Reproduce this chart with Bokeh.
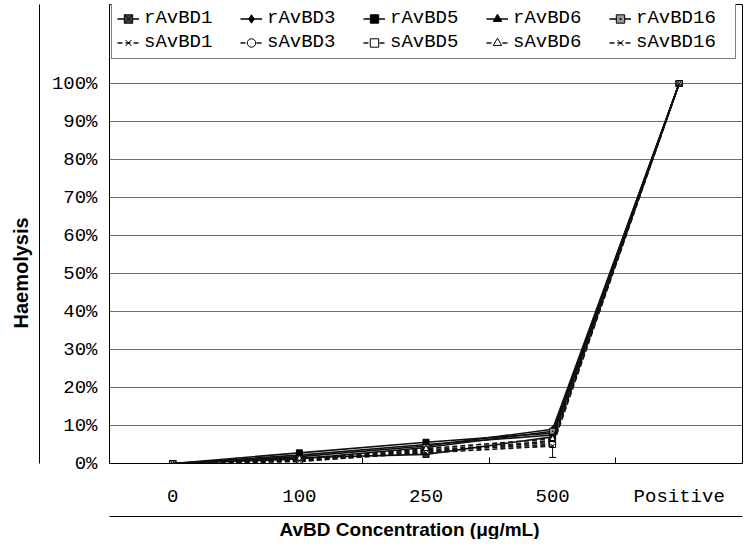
from bokeh.plotting import figure
from bokeh.models import (Range1d, FixedTicker, NumeralTickFormatter, Legend, LegendItem,
                          Whisker, ColumnDataSource, TeeHead, LinearAxis, Title)
from bokeh.embed import file_html
from bokeh.resources import INLINE

# ---- data (percent haemolysis) ----
categories = ["0", "100", "250", "500", "Positive"]
rAvBD1 = [0, 1.5, 2.4, 7.0, 100]
rAvBD3 = [0, 2.2, 5.0, 7.5, 100]
rAvBD5 = [0, 2.8, 5.6, 8.0, 100]
rAvBD6 = [0, 1.8, 4.6, 9.0, 100]
rAvBD16 = [0, 1.2, 4.2, 8.5, 100]
sAvBD1 = [0, 0.5, 3.0, 6.0, 100]
sAvBD3 = [0, 1.0, 3.6, 5.5, 100]
sAvBD5 = [0, 0.8, 3.3, 5.0, 100]
sAvBD6 = [0, 1.3, 3.9, 6.5, 100]
sAvBD16 = [0, 0.7, 2.8, 4.6, 100]
sAvBD16_err = [0, 0, 0, 3.0, 0]
y_ticks = [0, 10, 20, 30, 40, 50, 60, 70, 80, 90, 100]

SERIF = "Liberation Mono"
x_pos = [i + 0.5 for i in range(len(categories))]

# plot frame spans from the legend top down to the 0% line; 100% sits 79px below the top
p = figure(width=743, height=539, output_backend="svg", toolbar_location=None,
           x_range=Range1d(0, len(categories)), y_range=Range1d(0, 459 / 380),
           min_border_left=108, min_border_right=1, min_border_top=4, min_border_bottom=76)
p.background_fill_color = "white"
p.border_fill_color = "white"
p.outline_line_color = "black"
p.outline_line_width = 1

# x axis
p.xaxis.ticker = FixedTicker(ticks=x_pos, minor_ticks=list(range(1, len(categories))))
p.xaxis.major_label_overrides = {x: c for x, c in zip(x_pos, categories)}
p.xaxis.major_tick_in = 0
p.xaxis.major_tick_out = 0
p.xaxis.minor_tick_in = 6
p.xaxis.minor_tick_out = 0
p.xaxis.minor_tick_line_color = "black"
p.xaxis.axis_line_color = "black"
p.xaxis.major_label_text_font = SERIF
p.xaxis.major_label_text_font_size = "19px"
p.xaxis.major_label_text_color = "black"
p.xaxis.major_label_standoff = 22
p.xaxis.axis_label = "\u00a0"
p.xaxis.axis_label_text_font_size = "1px"
p.xaxis.axis_label_standoff = 2

# y axis
p.yaxis.ticker = FixedTicker(ticks=[t / 100 for t in y_ticks])
p.yaxis.formatter = NumeralTickFormatter(format="0%")
p.yaxis.bounds = (0, 1)
p.yaxis.major_tick_in = 0
p.yaxis.major_tick_out = 0
p.yaxis.minor_tick_line_color = None
p.yaxis.axis_line_color = "black"
p.yaxis.major_label_text_font = SERIF
p.yaxis.major_label_text_font_size = "19px"
p.yaxis.major_label_text_color = "black"
p.yaxis.major_label_standoff = 12
p.yaxis.axis_label = "\u00a0"
p.yaxis.axis_label_text_font_size = "1px"
p.yaxis.axis_label_standoff = 5

p.xgrid.visible = False
p.ygrid.ticker = FixedTicker(ticks=[t / 100 for t in y_ticks])
p.ygrid.grid_line_color = "#6e6e6e"
p.ygrid.grid_line_width = 1

series = [
    ("rAvBD1", rAvBD1, "square_x", "#444444", None),
    ("rAvBD3", rAvBD3, "diamond", "black", None),
    ("rAvBD5", rAvBD5, "square", "black", None),
    ("rAvBD6", rAvBD6, "triangle", "black", None),
    ("rAvBD16", rAvBD16, "square_dot", "#999999", None),
    ("sAvBD1", sAvBD1, "x", "white", "5 3"),
    ("sAvBD3", sAvBD3, "circle", "white", "5 3"),
    ("sAvBD5", sAvBD5, "square", "white", "5 3"),
    ("sAvBD6", sAvBD6, "triangle", "white", "5 3"),
    ("sAvBD16", sAvBD16, "x", "white", "5 3"),
]

items = []
for name, vals, marker, fill, dash in series:
    ys = [v / 100 for v in vals]
    kw = dict(line_color="#111111", line_width=1.6)
    if dash:
        kw["line_dash"] = dash
    lr = p.line(x_pos, ys, **kw)
    sr = p.scatter(x_pos, ys, marker=marker, size=6, fill_color=fill, line_color="black", line_width=1)
    items.append(LegendItem(label=name, renderers=[lr, sr]))

# error bar
ex = [x for x, e in zip(x_pos, sAvBD16_err) if e > 0]
ev = [v for v, e in zip(sAvBD16, sAvBD16_err) if e > 0]
ee = [e for e in sAvBD16_err if e > 0]
esrc = ColumnDataSource(dict(x=ex, upper=[(v + e) / 100 for v, e in zip(ev, ee)],
                             lower=[(v - e) / 100 for v, e in zip(ev, ee)]))
p.add_layout(Whisker(base="x", upper="upper", lower="lower", source=esrc, line_color="black",
                     upper_head=TeeHead(size=7, line_color="black"),
                     lower_head=TeeHead(size=7, line_color="black")))

legend = Legend(items=items, orientation="horizontal", ncols=5, location=(2, 404))
legend.label_text_font = SERIF
legend.label_text_font_size = "19px"
legend.label_text_color = "black"
legend.glyph_width = 22
legend.glyph_height = 21
legend.label_height = 21
legend.label_width = 94
legend.label_standoff = 5
legend.spacing = 2
legend.padding = 5
legend.margin = 0
legend.border_line_color = "black"
legend.border_line_width = 1
legend.background_fill_color = "white"
legend.background_fill_alpha = 1
p.add_layout(legend, "center")


# outer chart-area frame lines: bare axes without ticks or labels
def frame_axis():
    return LinearAxis(ticker=FixedTicker(ticks=[]), major_tick_line_color=None,
                      minor_tick_line_color=None, major_label_text_font_size="0px",
                      axis_line_color="black", major_label_standoff=0)


p.add_layout(frame_axis(), "left")
p.add_layout(frame_axis(), "below")

# axis titles
p.add_layout(Title(text="Haemolysis", align="left", offset=135, standoff=15,
                   text_font="Liberation Sans", text_font_style="bold",
                   text_font_size="20px", text_color="black"), "left")
p.add_layout(Title(text="AvBD Concentration (μg/mL)", align="left", offset=170, standoff=0,
                   text_font="Liberation Sans", text_font_style="bold",
                   text_font_size="19px", text_color="black"), "below")

open("out.html", "w").write(file_html(p, INLINE))
